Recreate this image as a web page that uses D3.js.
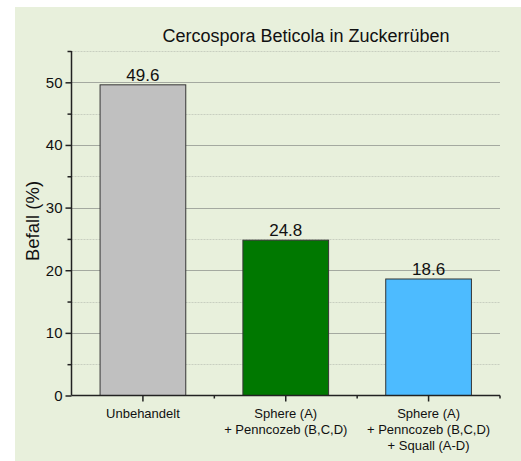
<!DOCTYPE html>
<html>
<head>
<meta charset="utf-8">
<script src="https://cdn.jsdelivr.net/npm/d3@7"></script>
<style>
  body { margin: 0; background: #fff; }
  text { font-family: "Liberation Sans", Arial, sans-serif; fill: #111; }
</style>
</head>
<body>
<script>
const categories = [
  ["Unbehandelt"],
  ["Sphere (A)", "+ Penncozeb (B,C,D)"],
  ["Sphere (A)", "+ Penncozeb (B,C,D)", "+ Squall (A-D)"]
];
const values = [49.6, 24.8, 18.6];
const barColors = ["#c0c0c0", "#007800", "#4dbbff"];
const majorTicks = [0, 10, 20, 30, 40, 50];
const minorTicks = [5, 15, 25, 35, 45, 55];

const W = 521, H = 461;
const plotLeft = 71.5, plotRight = 500, plotTop = 51, plotBottom = 395.5;

const svg = d3.select("body").append("svg")
  .attr("width", W)
  .attr("height", H);

// panel background
svg.append("rect")
  .attr("x", 15).attr("y", 7)
  .attr("width", W - 15).attr("height", H - 7)
  .attr("fill", "#e8f0dc");

const x = d3.scaleBand()
  .domain(d3.range(categories.length))
  .range([plotLeft, plotRight])
  .paddingInner(0.4)
  .paddingOuter(0.2);

const y = d3.scaleLinear()
  .domain([0, 55])
  .range([plotBottom, plotTop]);

// grid
svg.append("g")
  .selectAll("line")
  .data(minorTicks)
  .join("line")
  .attr("x1", plotLeft).attr("x2", plotRight)
  .attr("y1", d => Math.round(y(d)) + 0.5)
  .attr("y2", d => Math.round(y(d)) + 0.5)
  .attr("stroke", "#c8cfc0")
  .attr("stroke-dasharray", "2,1");

svg.append("g")
  .selectAll("line")
  .data(majorTicks.slice(1))
  .join("line")
  .attr("x1", plotLeft).attr("x2", plotRight)
  .attr("y1", d => Math.round(y(d)) + 0.5)
  .attr("y2", d => Math.round(y(d)) + 0.5)
  .attr("stroke", "#a4a9a0")
  .attr("stroke-width", 1.2);

// bars
svg.append("g")
  .selectAll("rect")
  .data(values)
  .join("rect")
  .attr("x", (d, i) => x(i))
  .attr("y", d => y(d))
  .attr("width", x.bandwidth())
  .attr("height", d => y(0) - y(d))
  .attr("fill", (d, i) => barColors[i])
  .attr("stroke", "#353535")
  .attr("stroke-width", 1);

// value labels
svg.append("g")
  .selectAll("text")
  .data(values)
  .join("text")
  .attr("x", (d, i) => x(i) + x.bandwidth() / 2)
  .attr("y", d => y(d) - 4)
  .attr("text-anchor", "middle")
  .style("font-size", "17px")
  .text(d => d.toFixed(1));

// y axis
const yAxis = svg.append("g")
  .attr("transform", `translate(${plotLeft},0)`)
  .call(d3.axisLeft(y).tickValues(majorTicks).tickSize(6).tickPadding(3))
  .call(g => g.select(".domain").remove());
yAxis.selectAll("text")
  .style("font-size", "15px")
  .attr("fill", "#111");
yAxis.selectAll("line").attr("stroke", "#222").attr("stroke-width", 1.5);

svg.append("g")
  .attr("transform", `translate(${plotLeft},0)`)
  .call(d3.axisLeft(y).tickValues(minorTicks).tickSize(4).tickFormat(""))
  .call(g => g.select(".domain").remove())
  .selectAll("line").attr("stroke", "#222").attr("stroke-width", 1.5);

svg.append("line")
  .attr("x1", plotLeft).attr("x2", plotLeft)
  .attr("y1", plotTop).attr("y2", plotBottom)
  .attr("stroke", "#222").attr("stroke-width", 1.5);

// x axis
svg.append("line")
  .attr("x1", plotLeft).attr("x2", plotRight)
  .attr("y1", plotBottom).attr("y2", plotBottom)
  .attr("stroke", "#222").attr("stroke-width", 1.5);

svg.append("g")
  .selectAll("line")
  .data(d3.range(categories.length))
  .join("line")
  .attr("x1", i => x(i) + x.bandwidth() / 2)
  .attr("x2", i => x(i) + x.bandwidth() / 2)
  .attr("y1", plotBottom).attr("y2", plotBottom + 6)
  .attr("stroke", "#222").attr("stroke-width", 1.5);

svg.append("g")
  .selectAll("line")
  .data(d3.range(1, categories.length + 1))
  .join("line")
  .attr("x1", i => x(i - 1) + x.step() * 0.8)
  .attr("x2", i => x(i - 1) + x.step() * 0.8)
  .attr("y1", plotBottom).attr("y2", plotBottom + 3)
  .attr("stroke", "#222").attr("stroke-width", 1.5);

const xl = svg.append("g")
  .selectAll("text")
  .data(categories)
  .join("text")
  .attr("text-anchor", "middle")
  .style("font-size", "13px")
  .attr("transform", (d, i) => `translate(${x(i) + x.bandwidth() / 2},418)`);
xl.selectAll("tspan")
  .data(d => d)
  .join("tspan")
  .attr("x", 0)
  .attr("y", (d, j) => j * 16)
  .text(d => d);

// titles
svg.append("text")
  .attr("x", 306).attr("y", 42)
  .attr("text-anchor", "middle")
  .style("font-size", "18px")
  .text("Cercospora Beticola in Zuckerrüben");

svg.append("text")
  .attr("transform", "translate(39,221) rotate(-90)")
  .attr("text-anchor", "middle")
  .style("font-size", "18.5px")
  .text("Befall (%)");
</script>
</body>
</html>
